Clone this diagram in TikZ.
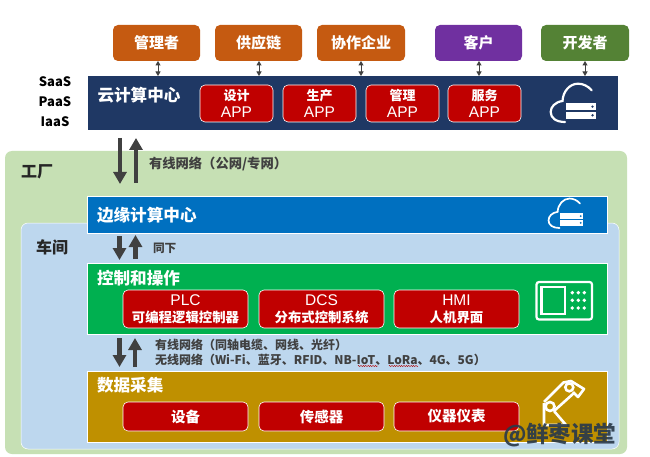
\documentclass[tikz,border=0pt]{standalone}
\usepackage{fontspec}
\setmainfont{Noto Sans CJK SC}
\newfontfamily\arialf{Liberation Sans}
\usetikzlibrary{arrows.meta,decorations.pathmorphing}
\definecolor{cOrange}{HTML}{C55A11}
\definecolor{cPurple}{HTML}{7030A0}
\definecolor{cOlive}{HTML}{548235}
\definecolor{cNavy}{HTML}{1F3864}
\definecolor{cRed}{HTML}{C00000}
\definecolor{cFactory}{HTML}{C6E0B4}
\definecolor{cShop}{HTML}{BDD7EE}
\definecolor{cEdge}{HTML}{0070C0}
\definecolor{cCtrl}{HTML}{00B050}
\definecolor{cData}{HTML}{BF9000}
\definecolor{cDark}{HTML}{404040}
\definecolor{cMark}{HTML}{2A3A4A}
\tikzset{
  every node/.style={inner sep=0pt,outer sep=0pt},
  box/.style={anchor=north west,align=center,text=white,font=\bfseries},
  actor/.style={box,rounded corners=5pt,minimum width=87pt,minimum height=36pt,font=\bfseries\fontsize{15}{17}\selectfont},
  band/.style={box,draw=white,line width=0.5pt,minimum width=520pt},
  redbtn/.style={box,fill=cRed,draw=white,line width=0.6pt,rounded corners=5pt,font=\fontsize{13}{17}\selectfont},
  appbtn/.style={redbtn,minimum width=73pt,minimum height=37pt},
  ctlbtn/.style={redbtn,minimum width=125pt,minimum height=38pt},
  datbtn/.style={redbtn,minimum width=125pt,minimum height=29pt,font=\bfseries\fontsize{14.5}{17}\selectfont},
  head/.style={anchor=west,text=white,font=\bfseries\fontsize{16.6}{18}\selectfont},
  tier/.style={text=black,font=\bfseries\fontsize{13}{15}\selectfont},
  zone/.style={anchor=west,text=black!85,font=\bfseries\fontsize{16}{18}\selectfont},
  note/.style={anchor=west,text=cDark,font=\bfseries\fontsize{12}{14}\selectfont},
  biglink/.style={cDark,line width=4.5pt,-{Triangle[length=12pt,width=13pt]}},
  tiny/.style={cDark,line width=1pt,{Triangle[length=4.5pt,width=5pt]}-{Triangle[length=4.5pt,width=5pt]}},
  icon/.style={draw=white,line width=2.2pt,fill=none},
  squig/.style={red!70!black,line width=0.4pt,decorate,decoration={zigzag,segment length=2.4pt,amplitude=0.6pt}},
}
\newcommand{\apptxt}[1]{\strut{\bfseries\fontsize{13}{17}\selectfont #1}\\{\arialf\fontsize{15.5}{17}\selectfont APP}}
\newcommand{\ctltxt}[2]{{\arialf\fontsize{15.5}{17}\selectfont #1}\\{\bfseries\fontsize{13.4}{17}\selectfont #2}}
\newcommand{\cloudicon}[4]{%
  \begin{scope}[shift={(#1,#2)},scale=#3]
    \draw[icon,line width=#3*2.2pt,line cap=round] (41.7,7.3) .. controls (38,3) and (33,0.7) .. (28,0.7) .. controls (20,0.7) and (13,8) .. (12.5,18) .. controls (5,19) and (0.7,24) .. (0.7,29) .. controls (0.7,35) and (6,39) .. (15,39);
    \fill[white] (16,20) rectangle (46,27.3);
    \fill[white] (16,28.7) rectangle (46,36);
    \fill[#4] (42.5,23.6) circle (1.3);
    \fill[#4] (42.5,32.3) circle (1.3);
  \end{scope}}
\begin{document}
\begin{tikzpicture}[x=1pt,y=-1pt]
\useasboundingbox (0,0) rectangle (650,457);
\fill[white] (0,0) rectangle (650,457);
% zones
\node[box,fill=cFactory,rounded corners=7pt,minimum width=622pt,minimum height=303pt] (factory) at (5,151) {};
\node[box,fill=cShop,draw=white,line width=0.5pt,rounded corners=7pt,minimum width=598pt,minimum height=226pt] (shop) at (21,223) {};
% actors
\node[actor,fill=cOrange] (mgr) at (113,25) {管理者};
\node[actor,fill=cOrange] (sup) at (215,25) {供应链};
\node[actor,fill=cOrange,minimum width=88pt] (co) at (317,25) {协作企业};
\node[actor,fill=cPurple] (cust) at (435,25) {客户};
\node[actor,fill=cOlive,minimum width=88pt] (dev) at (541,25) {开发者};
% cloud band
\node[box,fill=cNavy,minimum width=530.5pt,minimum height=54pt] (cloud) at (87.5,76) {};
\node[head] (cloudt) at (97.5,95.5) {云计算中心};
\node[appbtn] (a1) at (200,85) {\apptxt{设计}};
\node[appbtn] (a2) at (283,85) {\apptxt{生产}};
\node[appbtn] (a3) at (366,85) {\apptxt{管理}};
\node[appbtn] (a4) at (448,85) {\apptxt{服务}};
\node[tier] (saas) at (55,82) {SaaS};
\node[tier] (paas) at (55,102) {PaaS};
\node[tier] (iaas) at (55,122) {IaaS};
% factory labels
\node[zone] (fl) at (21,172) {工厂};
\node[zone] (sl) at (36,247) {车间};
% bands
\node[band,fill=cEdge,minimum height=37pt] (edge) at (87,196) {};
\node[head] (edget) at (97,215) {边缘计算中心};
\node[band,fill=cCtrl,minimum height=71pt] (ctrl) at (87,263) {};
\node[head] (ctrlt) at (97,278) {控制和操作};
\node[ctlbtn] (c1) at (123,290) {\ctltxt{PLC}{可编程逻辑控制器}};
\node[ctlbtn] (c2) at (259,290) {\ctltxt{DCS}{分布式控制系统}};
\node[ctlbtn] (c3) at (394,290) {\ctltxt{HMI}{人机界面}};
\node[band,fill=cData,minimum height=71pt] (data) at (87,371) {};
\node[head] (datat) at (97,385) {数据采集};
\node[datbtn] (d1) at (123,402) {设备};
\node[datbtn] (d2) at (259,402) {传感器};
\node[datbtn] (d3) at (394,402) {仪器仪表};
% notes
\node[note,font=\bfseries\fontsize{13.3}{15}\selectfont] (n1) at (149,164) {有线网络（公网/专网）};
\node[note,font=\bfseries\fontsize{11.7}{13}\selectfont] (n2) at (153,248) {同下};
\node[note] (n3) at (155,345) {有线网络（同轴电缆、网线、光纤）};
\node[note] (n4) at (155,360) {无线网络（Wi-Fi、蓝牙、RFID、NB-IoT、LoRa、4G、5G）};
\draw[squig] (358,366) -- (378,366);
\draw[squig] (389,366) -- (418,366);
% connectors
\draw[tiny] ([xshift=1.5pt]mgr.south) -- ([xshift=1.5pt]mgr.south |- cloud.north);
\draw[tiny] ([xshift=0.5pt]sup.south) -- ([xshift=0.5pt]sup.south |- cloud.north);
\draw[tiny] (co.south) -- (co.south |- cloud.north);
\draw[tiny] ([xshift=0.5pt]cust.south) -- ([xshift=0.5pt]cust.south |- cloud.north);
\draw[tiny] (dev.south) -- (dev.south |- cloud.north);
\draw[biglink] ([shift={(32.5,8)}]cloud.south west) -- ([shift={(33,-12)}]edge.north west);
\draw[biglink] ([shift={(49,-13)}]edge.north west) -- ([shift={(48.5,8)}]cloud.south west);
\draw[biglink] ([shift={(32.5,3)}]edge.south west) -- ([shift={(32.5,-3)}]ctrl.north west);
\draw[biglink] ([shift={(48.5,-4)}]ctrl.north west) -- ([shift={(48.5,2)}]edge.south west);
\draw[biglink] ([shift={(32.5,4)}]ctrl.south west) -- ([shift={(32.5,-4)}]data.north west);
\draw[biglink] ([shift={(48,-4)}]data.north west) -- ([shift={(48,4)}]ctrl.south west);
% cloud icons
\cloudicon{550}{83}{1}{cNavy}
\cloudicon{548}{198}{0.77}{cEdge}
% HMI icon
\draw[icon,rounded corners=2.5pt] (536.5,282) rectangle (592,319.5);
\draw[icon] (541.5,287) rectangle (565,314);
\foreach \dx in {572.3,578.3,584.3} \foreach \dy in {292.7,300.3,308} \fill[white] (\dx,\dy) circle (1.9);
% robot icon
\draw[icon,line join=round,line width=2.6pt] (544,402) -- (563.5,382.5) -- (571,381) -- (584,389) -- (578,397) -- (573,392);
\draw[icon,line width=2.6pt] (554,411) -- (574,393);
\draw[icon,line width=2.6pt] (550,406.5) circle (4.5);
\draw[icon,line width=2.6pt] (569.3,387.3) circle (4);
\draw[icon,line join=round,line width=2.6pt] (544,403) -- (544,425) -- (566,425) -- (554,411);
% watermark
\node[anchor=west,text=cMark,text opacity=0.92,font=\bfseries\fontsize{22.5}{24}\selectfont] (wm) at (503,435.5) {@鲜枣课堂};
\end{tikzpicture}
\end{document}
